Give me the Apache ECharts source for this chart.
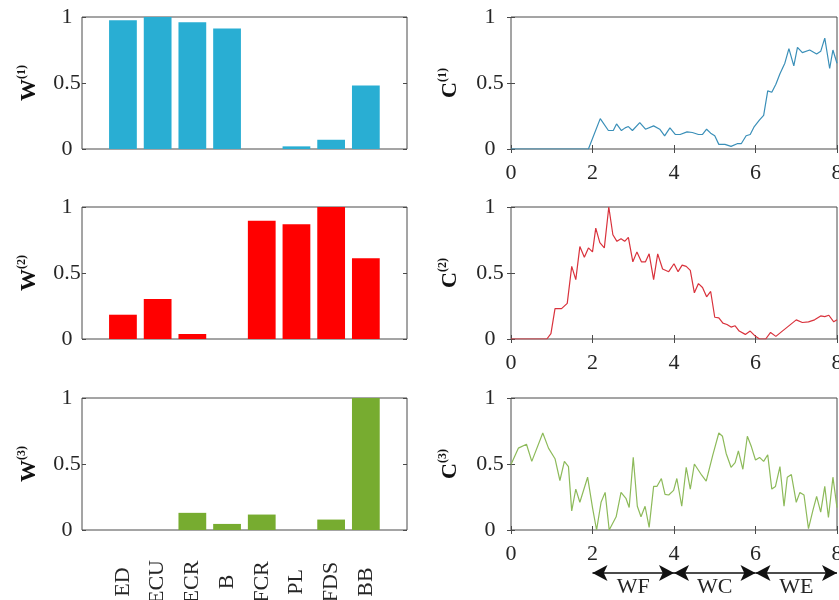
<!DOCTYPE html>
<html>
<head>
<meta charset="utf-8">
<script src="https://cdn.jsdelivr.net/npm/echarts@6/dist/echarts.min.js"></script>
<style>html,body{margin:0;padding:0;background:#fff}#c{width:839px;height:600px}</style>
</head>
<body>
<div id="c"></div>
<script>
// ---------- data ----------
const categories = ['ED', 'ECU', 'ECR', 'B', 'FCR', 'PL', 'FDS', 'BB'];
const W1 = [0.975, 1.0, 0.96, 0.912, 0, 0.02, 0.07, 0.482];
const W2 = [0.184, 0.303, 0.038, 0, 0.896, 0.869, 1.0, 0.611];
const W3 = [0, 0, 0.13, 0.046, 0.117, 0, 0.079, 1.0];

const t1 = [0, 1.9, 2.19, 2.39, 2.51, 2.59, 2.71, 2.8, 2.88, 2.98, 3.16, 3.3, 3.5, 3.65, 3.77, 3.9, 4.03, 4.15, 4.32, 4.45, 4.6, 4.7, 4.8, 4.9, 5.0, 5.1, 5.25, 5.4, 5.55, 5.65, 5.77, 5.87, 5.97, 6.1, 6.2, 6.3, 6.4, 6.5, 6.6, 6.72, 6.82, 6.94, 7.03, 7.15, 7.33, 7.5, 7.6, 7.7, 7.82, 7.9, 8.0];
const C1 = [0, 0, 0.23, 0.14, 0.14, 0.19, 0.14, 0.16, 0.17, 0.14, 0.20, 0.15, 0.175, 0.15, 0.10, 0.16, 0.11, 0.11, 0.13, 0.125, 0.11, 0.11, 0.15, 0.12, 0.10, 0.035, 0.035, 0.02, 0.04, 0.04, 0.10, 0.11, 0.17, 0.22, 0.255, 0.44, 0.43, 0.49, 0.57, 0.65, 0.76, 0.63, 0.77, 0.73, 0.75, 0.72, 0.74, 0.84, 0.61, 0.75, 0.65];

const t2 = [0, 0.88, 0.98, 1.08, 1.24, 1.38, 1.49, 1.59, 1.69, 1.8, 1.9, 2.0, 2.08, 2.18, 2.29, 2.4, 2.5, 2.6, 2.7, 2.79, 2.88, 2.99, 3.09, 3.2, 3.3, 3.39, 3.5, 3.6, 3.72, 3.87, 4.0, 4.1, 4.2, 4.3, 4.4, 4.5, 4.6, 4.7, 4.8, 4.9, 5.0, 5.1, 5.2, 5.3, 5.4, 5.5, 5.6, 5.75, 5.87, 6.0, 6.1, 6.25, 6.37, 6.5, 6.62, 6.78, 7.0, 7.15, 7.3, 7.45, 7.6, 7.7, 7.8, 7.92, 8.0];
const C2 = [0, 0, 0.04, 0.23, 0.23, 0.27, 0.55, 0.45, 0.70, 0.62, 0.69, 0.66, 0.84, 0.73, 0.69, 1.0, 0.79, 0.74, 0.76, 0.74, 0.77, 0.585, 0.66, 0.585, 0.585, 0.645, 0.45, 0.645, 0.53, 0.51, 0.57, 0.51, 0.56, 0.55, 0.52, 0.35, 0.42, 0.39, 0.32, 0.36, 0.165, 0.16, 0.12, 0.11, 0.09, 0.10, 0.06, 0.035, 0.06, 0.02, 0, 0, 0.05, 0.02, 0.05, 0.09, 0.145, 0.125, 0.13, 0.145, 0.175, 0.17, 0.18, 0.13, 0.145];

const t3 = [0, 0.18, 0.38, 0.51, 0.78, 0.92, 1.08, 1.2, 1.31, 1.41, 1.49, 1.59, 1.69, 1.88, 2.0, 2.1, 2.21, 2.31, 2.41, 2.58, 2.7, 2.82, 2.9, 3.0, 3.1, 3.19, 3.29, 3.39, 3.5, 3.58, 3.69, 3.78, 3.87, 3.99, 4.07, 4.19, 4.3, 4.4, 4.5, 4.68, 4.79, 4.95, 5.1, 5.19, 5.28, 5.4, 5.5, 5.58, 5.69, 5.8, 5.9, 6.0, 6.1, 6.2, 6.3, 6.4, 6.49, 6.6, 6.7, 6.78, 6.88, 7.0, 7.09, 7.19, 7.3, 7.41, 7.5, 7.6, 7.7, 7.79, 7.9, 8.0];
const C3 = [0.496, 0.62, 0.65, 0.52, 0.735, 0.62, 0.54, 0.375, 0.52, 0.48, 0.145, 0.31, 0.21, 0.40, 0.17, 0.0, 0.21, 0.285, 0, 0.1, 0.285, 0.24, 0.17, 0.55, 0.18, 0.10, 0.18, 0.02, 0.33, 0.33, 0.39, 0.27, 0.265, 0.30, 0.39, 0.18, 0.475, 0.31, 0.50, 0.415, 0.37, 0.565, 0.735, 0.71, 0.58, 0.475, 0.51, 0.60, 0.46, 0.71, 0.63, 0.53, 0.55, 0.52, 0.57, 0.31, 0.33, 0.48, 0.18, 0.40, 0.42, 0.21, 0.285, 0.265, 0.01, 0.15, 0.255, 0.135, 0.33, 0.095, 0.40, 0.17];

const yTickValues = [0, 0.5, 1];
const xTickStep = 2;          // time axis ticks 0,2,4,6,8
const timeMax = 8;
const phaseNames = ['WF', 'WC', 'WE'];
const phaseBounds = [2, 4, 6, 8];

// ---------- style / layout ----------
const FONT = '"Liberation Serif","Times New Roman",serif';
const TXT = '#262626';
const BOX = '#4a4a4a';
const barColors = ['#29aed3', '#ff0000', '#77ac30'];
const lineColors = ['#3a8fb8', '#d9323c', '#8dba5a'];
const rowTop = [17, 207, 398];
const rowH = 132;
const Wdata = [W1, W2, W3];
const Tdata = [t1, t2, t3];
const Cdata = [C1, C2, C3];
const sup = ['(1)', '(2)', '(3)'];

const grid = [], xAxis = [], yAxis = [], series = [];

function nameRich() {
  return {
    rich: {
      m: { fontFamily: FONT, fontWeight: 'bold', fontSize: 22, color: '#111', verticalAlign: 'bottom', lineHeight: 24 },
      s: { fontFamily: FONT, fontWeight: 'bold', fontSize: 12, color: '#111', verticalAlign: 'top', lineHeight: 24 }
    }
  };
}
const yLabel = (margin) => ({
  show: true, fontFamily: FONT, fontSize: 22, color: TXT, align: 'center', margin: margin,
  formatter: v => (yTickValues.indexOf(v) >= 0 ? String(v) : '')
});
const inTick = { show: true, inside: true, length: 4, lineStyle: { color: BOX, width: 1 } };
const G = (o) => Object.assign({ outerBoundsMode: 'none', containLabel: false }, o);

for (let i = 0; i < 3; i++) {
  // left box grid (frame + y axis)
  const gBox = grid.length;
  grid.push(G({ left: 82, top: rowTop[i], width: 325, height: rowH, show: true, borderColor: BOX, borderWidth: 1, backgroundColor: 'transparent' }));
  xAxis.push({ gridIndex: gBox, type: 'value', min: 0, max: 1, show: false });
  yAxis.push({ gridIndex: gBox, type: 'value', min: 0, max: 1, interval: 0.5, position: 'left',
    axisLine: { show: false }, splitLine: { show: false }, axisTick: inTick, axisLabel: yLabel(15),
    name: '{m|W}{s|' + sup[i] + '}', nameLocation: 'middle', nameRotate: 90, nameGap: 42,
    nameTextStyle: nameRich() });
  yAxis.push({ gridIndex: gBox, type: 'value', min: 0, max: 1, interval: 0.5, position: 'right',
    axisLine: { show: false }, splitLine: { show: false }, axisTick: inTick, axisLabel: { show: false } });
  // bar grid
  const gBar = grid.length;
  grid.push(G({ left: 105.6, top: rowTop[i], width: 277.6, height: rowH }));
  const bx = xAxis.length;
  xAxis.push({ gridIndex: gBar, type: 'category', data: categories,
    axisLine: { show: false }, axisTick: { show: false },
    axisLabel: i === 2 ? { show: true, rotate: 90, align: 'center', verticalAlign: 'middle', margin: 52, fontFamily: FONT, fontSize: 22, color: TXT, interval: 0 } : { show: false } });
  const by = yAxis.length;
  yAxis.push({ gridIndex: gBar, type: 'value', min: 0, max: 1, show: false });
  series.push({ type: 'bar', xAxisIndex: bx, yAxisIndex: by, data: Wdata[i], barWidth: '80%',
    itemStyle: { color: barColors[i] }, silent: true });

  // right time grid
  const gR = grid.length;
  grid.push(G({ left: 511, top: rowTop[i], width: 326, height: rowH, show: true, borderColor: BOX, borderWidth: 1, backgroundColor: 'transparent' }));
  const rx = xAxis.length;
  xAxis.push({ gridIndex: gR, type: 'value', min: 0, max: timeMax, interval: xTickStep, position: 'bottom',
    axisLine: { show: false }, splitLine: { show: false }, axisTick: inTick,
    axisLabel: { show: true, fontFamily: FONT, fontSize: 22, color: TXT, margin: 13, showMaxLabel: true } });
  xAxis.push({ gridIndex: gR, type: 'value', min: 0, max: timeMax, interval: xTickStep, position: 'top',
    axisLine: { show: false }, splitLine: { show: false }, axisTick: inTick, axisLabel: { show: false } });
  const ry = yAxis.length;
  yAxis.push({ gridIndex: gR, type: 'value', min: 0, max: 1, interval: 0.5, position: 'left',
    axisLine: { show: false }, splitLine: { show: false }, axisTick: inTick, axisLabel: yLabel(21),
    name: '{m|C}{s|' + sup[i] + '}', nameLocation: 'middle', nameRotate: 90, nameGap: 50,
    nameTextStyle: nameRich() });
  yAxis.push({ gridIndex: gR, type: 'value', min: 0, max: 1, interval: 0.5, position: 'right',
    axisLine: { show: false }, splitLine: { show: false }, axisTick: inTick, axisLabel: { show: false } });
  series.push({ type: 'line', xAxisIndex: rx, yAxisIndex: ry,
    data: Tdata[i].map((t, k) => [t, Cdata[i][k]]),
    showSymbol: false, symbol: 'none', silent: true,
    lineStyle: { color: lineColors[i], width: 1.2 } });
}

// phase arrows grid
const gA = grid.length;
grid.push(G({ left: 511, top: 560, width: 326, height: 26 }));
const ax = xAxis.length;
xAxis.push({ gridIndex: gA, type: 'value', min: 0, max: timeMax, show: false });
const ay = yAxis.length;
yAxis.push({ gridIndex: gA, type: 'value', min: 0, max: 1, show: false });
series.push({
  type: 'line', xAxisIndex: ax, yAxisIndex: ay, data: [[phaseBounds[0], 0.5]], showSymbol: false,
  lineStyle: { opacity: 0 }, silent: true,
  markLine: {
    silent: true, symbol: ['arrow', 'arrow'], symbolSize: [12, 15], animation: false,
    lineStyle: { color: '#111', width: 1.5, type: 'solid' },
    label: { show: true, position: 'insideMiddleBottom', distance: 3, formatter: p => p.name,
      fontFamily: FONT, fontSize: 22, color: TXT },
    data: phaseNames.map((n, k) => [
      { name: n, coord: [phaseBounds[k], 0.5] },
      { coord: [phaseBounds[k + 1], 0.5] }
    ])
  }
});

const chart = echarts.init(document.getElementById('c'), null, { renderer: 'canvas' });
chart.setOption({ animation: false, backgroundColor: '#fff', grid, xAxis, yAxis, series });
</script>
</body>
</html>
